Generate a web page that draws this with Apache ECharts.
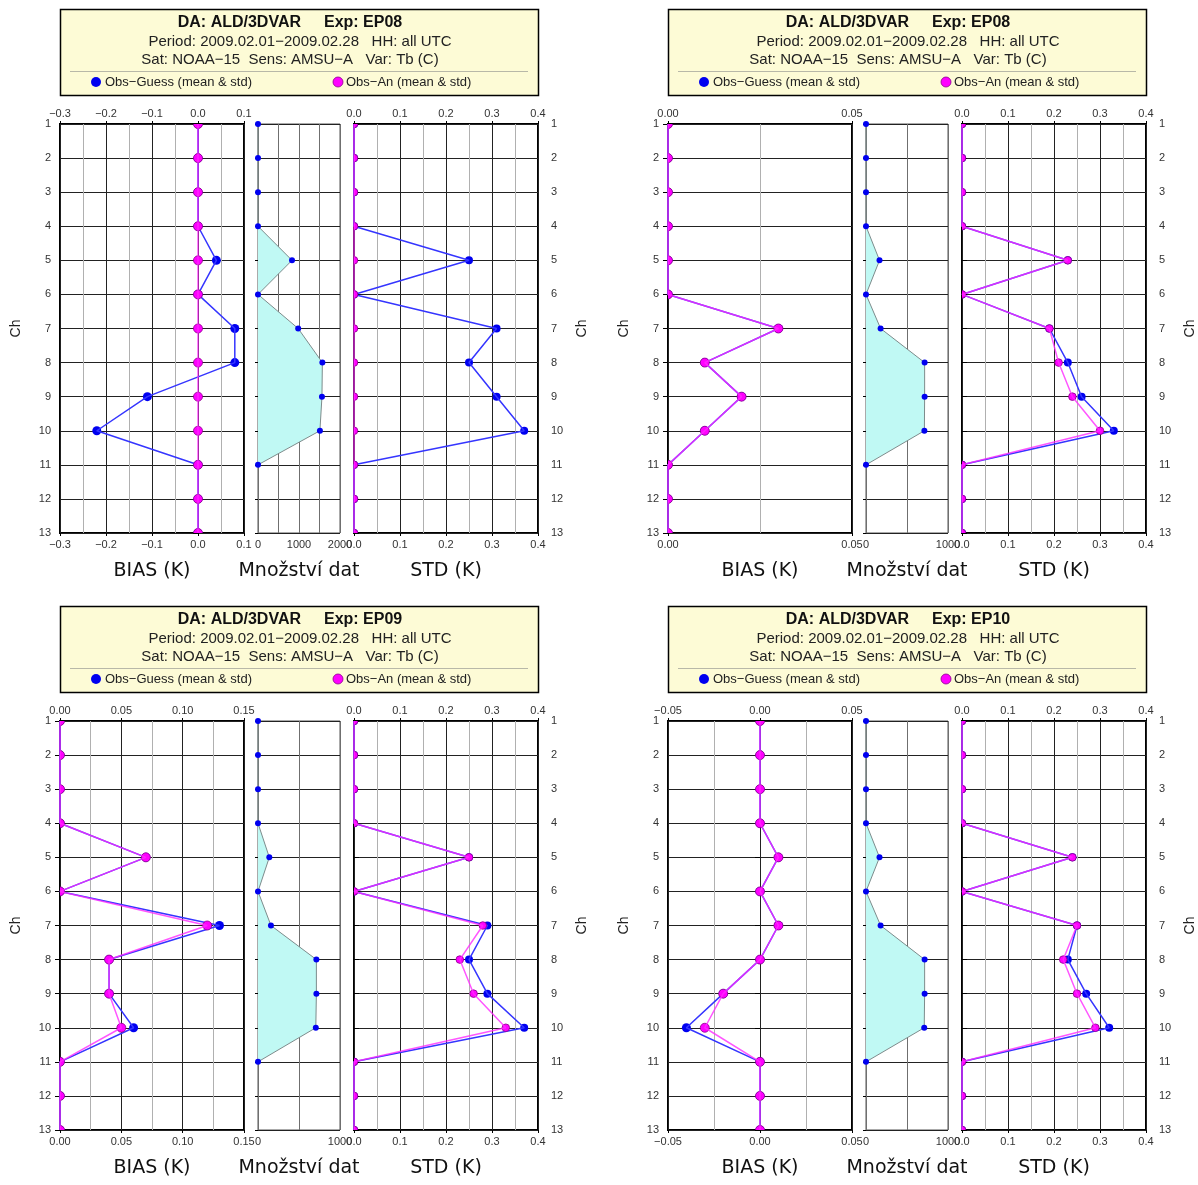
<!DOCTYPE html>
<html><head><meta charset="utf-8">
<script src="https://cdn.jsdelivr.net/npm/echarts@6/dist/echarts.min.js"></script>
<style>html,body{margin:0;padding:0;background:#fff}#c{width:1198px;height:1185px}</style>
</head><body><div id="c"></div>
<script>
// ---------- data ----------
const channels = ['1','2','3','4','5','6','7','8','9','10','11','12','13'];
const experiments = ['EP08','EP08','EP09','EP10'];

// tick labels of the axes
const biasTicks1 = [-0.3,-0.2,-0.1,0.0,0.1];
const biasTicks2 = [0.00,0.05];
const biasTicks3 = [0.00,0.05,0.10,0.15];
const biasTicks4 = [-0.05,0.00,0.05];
const countTicks1 = [0,1000,2000];
const countTicks2 = [0,1000];
const stdTicks = [0.0,0.1,0.2,0.3,0.4];

// panel 1 (EP08, top left)
const p1BiasGuess = [0,0,0,0,0.04,0,0.08,0.08,-0.11,-0.22,0,0,0];
const p1BiasAn    = [0,0,0,0,0,0,0,0,0,0,0,0,0];
const p1Count     = [0,0,0,0,830,0,980,1570,1560,1510,0,null,null];
const p1StdGuess  = [0,0,0,0,0.25,0,0.31,0.25,0.31,0.37,0,0,0];
const p1StdAn     = [0,0,0,0,0,0,0,0,0,0,0,0,0];

// panel 2 (EP08, top right)
const p2BiasGuess = [0,0,0,0,0,0,0.03,0.01,0.02,0.01,0,0,0];
const p2BiasAn    = [0,0,0,0,0,0,0.03,0.01,0.02,0.01,0,0,0];
const p2Count     = [0,0,0,0,165,0,178,715,715,712,0,null,null];
const p2StdGuess  = [0,0,0,0,0.23,0,0.19,0.23,0.26,0.33,0,0,0];
const p2StdAn     = [0,0,0,0,0.23,0,0.19,0.21,0.24,0.30,0,0,0];

// panel 3 (EP09, bottom left)
const p3BiasGuess = [0,0,0,0,0.07,0,0.13,0.04,0.04,0.06,0,0,0];
const p3BiasAn    = [0,0,0,0,0.07,0,0.12,0.04,0.04,0.05,0,0,0];
const p3Count     = [0,0,0,0,138,0,158,712,712,705,0,null,null];
const p3StdGuess  = [0,0,0,0,0.25,0,0.29,0.25,0.29,0.37,0,0,0];
const p3StdAn     = [0,0,0,0,0.25,0,0.28,0.23,0.26,0.33,0,0,0];

// panel 4 (EP10, bottom right)
const p4BiasGuess = [0,0,0,0,0.01,0,0.01,0,-0.02,-0.04,0,0,0];
const p4BiasAn    = [0,0,0,0,0.01,0,0.01,0,-0.02,-0.03,0,0,0];
const p4Count     = [0,0,0,0,165,0,178,715,715,710,0,null,null];
const p4StdGuess  = [0,0,0,0,0.24,0,0.25,0.23,0.27,0.32,0,0,0];
const p4StdAn     = [0,0,0,0,0.24,0,0.25,0.22,0.25,0.29,0,0,0];

// ---------- layout ----------
const panels = [
  {ox:0,   oy:0,   exp:experiments[0], bt:biasTicks1, dec:1, ct:countTicks1, bg:p1BiasGuess, ba:p1BiasAn, cnt:p1Count, sg:p1StdGuess, sa:p1StdAn},
  {ox:608, oy:0,   exp:experiments[1], bt:biasTicks2, dec:2, ct:countTicks2, bg:p2BiasGuess, ba:p2BiasAn, cnt:p2Count, sg:p2StdGuess, sa:p2StdAn},
  {ox:0,   oy:597, exp:experiments[2], bt:biasTicks3, dec:2, ct:countTicks2, bg:p3BiasGuess, ba:p3BiasAn, cnt:p3Count, sg:p3StdGuess, sa:p3StdAn},
  {ox:608, oy:597, exp:experiments[3], bt:biasTicks4, dec:2, ct:countTicks2, bg:p4BiasGuess, ba:p4BiasAn, cnt:p4Count, sg:p4StdGuess, sa:p4StdAn}
];
const PTOP = 124, PH = 409;
const cols = [{l:60,w:184},{l:258,w:82},{l:354,w:184}];
const FONT = 'Liberation Sans, Arial, sans-serif';
const BLUE = '#0000f0', BLUE_L = '#3535ff', MAG = '#ff00ff', MAG_L = '#ff2cff', MAG_B = '#8a008a';

const grids=[], xAxes=[], yAxes=[], series=[], graphics=[];
function fmtFn(dec){ return v => { if (Math.abs(v) < 1e-9) v = 0; return v.toFixed(dec).replace('-', '\u2212'); }; }
const labelBase = {fontSize:11, color:'#333', fontFamily:FONT, showMinLabel:true, showMaxLabel:true, margin:5};
const nameStyle = {fontFamily:'DejaVu Sans, sans-serif', fontSize:19, color:'#111'};
const pairs = arr => arr.map((v,i)=>[v, channels[i]]).filter(d=>d[0]!==null);

function markerSeries(xi, yi, arr, r, fill, stroke, z){
  return {type:'custom', xAxisIndex:xi, yAxisIndex:yi, data:pairs(arr), clip:true, silent:true, animation:false, z:z,
    encode:{x:0, y:1},
    renderItem:(params, api) => {
      const pt = api.coord([api.value(0), api.value(1)]);
      return {type:'circle', shape:{cx:pt[0], cy:pt[1], r:r},
        style: stroke ? {fill:fill, stroke:stroke, lineWidth:0.8} : {fill:fill}};
    }};
}

panels.forEach((p, pi) => {
  const axisDefs = [
    {min:p.bt[0], max:p.bt[p.bt.length-1], interval:p.bt[1]-p.bt[0], fmt:fmtFn(p.dec), minor:true, topLabels:true, name:'BIAS (K)', splitColor:'#222'},
    {min:0, max:p.ct[p.ct.length-1], interval:(p.ct[1]-p.ct[0])/2, fmt:v => (p.ct.indexOf(Math.round(v))>=0 ? String(Math.round(v)) : ''), minor:false, topLabels:false, name:'Množství dat', splitColor:'#6f6f6f'},
    {min:stdTicks[0], max:stdTicks[stdTicks.length-1], interval:stdTicks[1]-stdTicks[0], fmt:fmtFn(1), minor:true, topLabels:true, name:'STD (K)', splitColor:'#222'}
  ];
  cols.forEach((c, k) => {
    const gi = grids.length;
    grids.push({left:p.ox+c.l, top:p.oy+PTOP, width:c.w, height:PH, show:true,
      borderColor: k===1 ? '#555' : '#000', borderWidth: k===1 ? 1 : 2,
      backgroundColor:'transparent', containLabel:false, outerBoundsMode:'none'});
    const a = axisDefs[k];
    const xTop = xAxes.length;
    xAxes.push({gridIndex:gi, type:'value', position:'top', min:a.min, max:a.max, interval:a.interval,
      axisLine:{show:false}, axisTick:{show:a.topLabels, length:3, lineStyle:{color:'#000'}},
      axisLabel:Object.assign({}, labelBase, {show:a.topLabels, formatter:a.fmt}),
      splitLine:{show:true, lineStyle:{color:a.splitColor, width:1}},
      minorTick:{show:false, splitNumber:2},
      minorSplitLine:{show:a.minor, lineStyle:{color:'#b0b0b0', width:1}}});
    xAxes.push({gridIndex:gi, type:'value', position:'bottom', min:a.min, max:a.max, interval:a.interval,
      axisLine:{show:false}, axisTick:{show:k!==1, length:3, lineStyle:{color:'#000'}},
      axisLabel:Object.assign({}, labelBase, {show:true, formatter:a.fmt, margin:6}),
      splitLine:{show:false}, minorSplitLine:{show:false},
      name:a.name, nameLocation:'middle', nameGap:29, nameTextStyle:nameStyle});
    const yi = yAxes.length;
    yAxes.push({gridIndex:gi, type:'category', data:channels, inverse:true, boundaryGap:false,
      position: k===2 ? 'right' : 'left',
      axisLine:{show:false},
      axisTick:{show:true, interval:0, length: k===1 ? 3 : 5, lineStyle:{color:'#000'}},
      axisLabel:{show:k!==1, interval:0, margin: k===2 ? 13 : 9, fontSize:11, color:'#333', fontFamily:FONT},
      splitLine:{show:true, interval:0, lineStyle:{color:'#222', width:1}},
      name: k===1 ? '' : 'Ch', nameLocation:'middle', nameRotate:90, nameGap:37,
      nameTextStyle:{fontSize:14, color:'#222', fontFamily:FONT}});

    if (k === 1) {
      series.push({type:'line', xAxisIndex:xTop, yAxisIndex:yi, data:pairs(p.cnt),
        symbol:'circle', symbolSize:6, showAllSymbol:true, silent:true, animation:false,
        itemStyle:{color:BLUE}, lineStyle:{color:'#7d8b8b', width:1},
        areaStyle:{color:'#c0f9f4', opacity:1}, z:3});
    } else {
      const g = k===0 ? p.bg : p.sg, an = k===0 ? p.ba : p.sa;
      const rb = k===0 ? 4.5 : 4, rm = k===0 ? 4.5 : 3.8;
      series.push({type:'line', xAxisIndex:xTop, yAxisIndex:yi, data:pairs(g),
        symbol:'none', silent:true, animation:false,
        lineStyle:{color:BLUE_L, width:1.5}, z:3});
      series.push(markerSeries(xTop, yi, g, rb, BLUE, null, 3));
      series.push({type:'line', xAxisIndex:xTop, yAxisIndex:yi, data:pairs(an),
        symbol:'none', silent:true, animation:false,
        lineStyle:{color:MAG_L, width:1.5, opacity:0.8}, z:4});
      series.push(markerSeries(xTop, yi, an, rm, MAG, MAG_B, 4));
    }
  });

  // header box
  const ox = p.ox, oy = p.oy;
  graphics.push({type:'rect', shape:{x:ox+60.5, y:oy+9.5, width:478, height:86},
    style:{fill:'#fdfbd6', stroke:'#000', lineWidth:1.5}, z:10});
  graphics.push({type:'text', x:ox+301, y:oy+23, style:{text:'DA: ALD/3DVAR', font:'bold 16px '+FONT, fill:'#111', align:'right', verticalAlign:'middle'}, z:11});
  graphics.push({type:'text', x:ox+324, y:oy+23, style:{text:'Exp: '+p.exp, font:'bold 16px '+FONT, fill:'#111', align:'left', verticalAlign:'middle'}, z:11});
  graphics.push({type:'text', x:ox+300, y:oy+41.5, style:{text:'Period: 2009.02.01\u22122009.02.28   HH: all UTC', font:'15px '+FONT, fill:'#222', align:'center', verticalAlign:'middle'}, z:11});
  graphics.push({type:'text', x:ox+290, y:oy+60, style:{text:'Sat: NOAA\u221215  Sens: AMSU\u2212A   Var: Tb (C)', font:'15px '+FONT, fill:'#222', align:'center', verticalAlign:'middle'}, z:11});
  graphics.push({type:'line', shape:{x1:ox+70, y1:oy+71.5, x2:ox+528, y2:oy+71.5}, style:{stroke:'#b8b8a8', lineWidth:1}, z:11});
  graphics.push({type:'circle', shape:{cx:ox+96, cy:oy+82, r:5}, style:{fill:BLUE}, z:11});
  graphics.push({type:'text', x:ox+105, y:oy+82, style:{text:'Obs\u2212Guess (mean & std)', font:'13px '+FONT, fill:'#222', align:'left', verticalAlign:'middle'}, z:11});
  graphics.push({type:'circle', shape:{cx:ox+338, cy:oy+82, r:5}, style:{fill:MAG, stroke:MAG_B, lineWidth:0.8}, z:11});
  graphics.push({type:'text', x:ox+346, y:oy+82, style:{text:'Obs\u2212An (mean & std)', font:'13px '+FONT, fill:'#222', align:'left', verticalAlign:'middle'}, z:11});
});

const chart = echarts.init(document.getElementById('c'), null, {renderer:'canvas'});
chart.setOption({
  animation:false,
  backgroundColor:'#fff',
  grid:grids, xAxis:xAxes, yAxis:yAxes, series:series, graphic:graphics
});
</script>
</body></html>
